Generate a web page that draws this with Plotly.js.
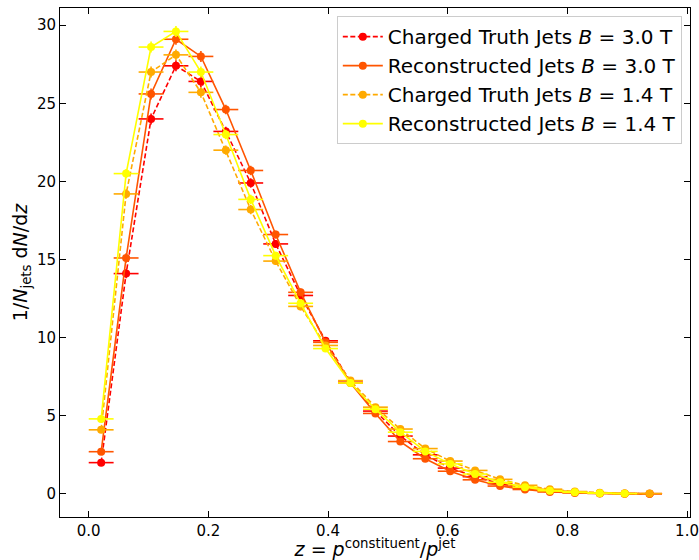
<!DOCTYPE html>
<html>
<head>
<meta charset="utf-8">
<script src="https://cdn.plot.ly/plotly-3.0.1.min.js"></script>
<style>html,body{margin:0;padding:0;background:#fff;}#chart{width:699px;height:560px;}</style>
</head>
<body>
<div id="chart"></div>
<script>
// Bin centres (z) and half bin width
const zCenters = [0.0208,0.0625,0.1042,0.1458,0.1875,0.2292,0.2708,0.3125,0.3542,0.3958,0.4375,0.4792,0.5208,0.5625,0.6042,0.6458,0.6875,0.7292,0.7708,0.8125,0.8542,0.8958,0.9375];
const zHalfWidth = [0.0208];

const truth30 = [2.0,14.1,24.0,27.4,26.4,23.2,19.9,16.0,12.7,9.8,7.15,5.3,3.7,2.5,1.65,1.1,0.65,0.38,0.2,0.1,0.04,0.02,0.01];
const reco30  = [2.7,15.1,25.6,29.1,28.0,24.6,20.7,16.6,12.9,9.7,7.1,5.15,3.35,2.25,1.45,0.9,0.5,0.28,0.12,0.06,0.03,0.01,0.01];
const truth14 = [4.1,19.2,27.0,28.1,25.7,22.0,18.2,14.9,12.0,9.5,7.25,5.55,4.15,2.9,2.1,1.5,0.93,0.55,0.3,0.15,0.07,0.03,0.02];
const reco14  = [4.8,20.5,28.6,29.6,27.0,23.0,18.85,15.25,12.2,9.3,7.1,5.42,3.95,2.72,1.92,1.27,0.74,0.43,0.2,0.1,0.04,0.02];

const errY = [0.15,0.3,0.35,0.35,0.35,0.3,0.3,0.25,0.25,0.2,0.2,0.15,0.15,0.1,0.1,0.08,0.06,0.05,0.04,0.03,0.02,0.02,0.01];

const seriesNames = [
  "Charged Truth Jets <i>B</i> = 3.0 T",
  "Reconstructed Jets <i>B</i> = 3.0 T",
  "Charged Truth Jets <i>B</i> = 1.4 T",
  "Reconstructed Jets <i>B</i> = 1.4 T"
];
const seriesValues = [truth30, reco30, truth14, reco14];
const seriesColors = ["#ff0000", "#ff5500", "#ffaa00", "#ffff00"];
const seriesDash = ["dash", "solid", "dash", "solid"];

const traces = seriesValues.map((vals, i) => ({
  type: "scatter",
  mode: "lines+markers",
  name: seriesNames[i],
  legendgroup: "g" + i,
  x: zCenters.slice(0, vals.length),
  y: vals,
  line: {color: seriesColors[i], width: 1.6, dash: seriesDash[i] === "dash" ? "5px,2.5px" : "solid"},
  marker: {color: seriesColors[i], size: 8},
  error_x: {type: "constant", value: zHalfWidth[0], color: seriesColors[i], thickness: 1.6, width: 0},
  error_y: {type: "data", array: errY.slice(0, vals.length), color: seriesColors[i], thickness: 1.6, width: 0}
}));

const axisCommon = {
  showgrid: false, zeroline: false,
  showline: true, linecolor: "#000", linewidth: 1,
  mirror: "ticks", ticks: "inside", ticklen: 6, tickwidth: 1, tickcolor: "#000",
  tickfont: {family: "DejaVu Sans", size: 15, color: "#000"}
};

const layout = {
  width: 699, height: 560,
  margin: {l: 60, r: 9, t: 8, b: 43},
  paper_bgcolor: "#fff", plot_bgcolor: "#fff",
  font: {family: "DejaVu Sans", color: "#000"},
  showlegend: true,
  xaxis: Object.assign({}, axisCommon, {
    range: [-0.048, 1.005],
    tickvals: [0, 0.2, 0.4, 0.6, 0.8, 1.0],
    ticktext: ["0.0", "0.2", "0.4", "0.6", "0.8", "1.0"],
    title: {text: "<i>z</i> = <i>p</i><sup>constituent</sup>/<i>p</i><sup>jet</sup>", font: {family: "DejaVu Sans", size: 19, color: "#000"}, standoff: 7}
  }),
  yaxis: Object.assign({}, axisCommon, {
    range: [-1.48, 31.1],
    tickvals: [0, 5, 10, 15, 20, 25, 30],
    title: {text: "1/<i>N</i><sub>jets</sub> d<i>N</i>/d<i>z</i>", font: {family: "DejaVu Sans", size: 19, color: "#000"}, standoff: 4}
  }),
  legend: {
    x: 0.987, y: 0.984, xanchor: "right", yanchor: "top",
    bgcolor: "rgba(255,255,255,0.8)", bordercolor: "#cccccc", borderwidth: 1,
    font: {family: "DejaVu Sans", size: 20, color: "#000"},
    traceorder: "grouped", tracegroupgap: 0,
    itemwidth: 40
  }
};

Plotly.newPlot("chart", traces, layout, {displayModeBar: false, staticPlot: true});
</script>
</body>
</html>
